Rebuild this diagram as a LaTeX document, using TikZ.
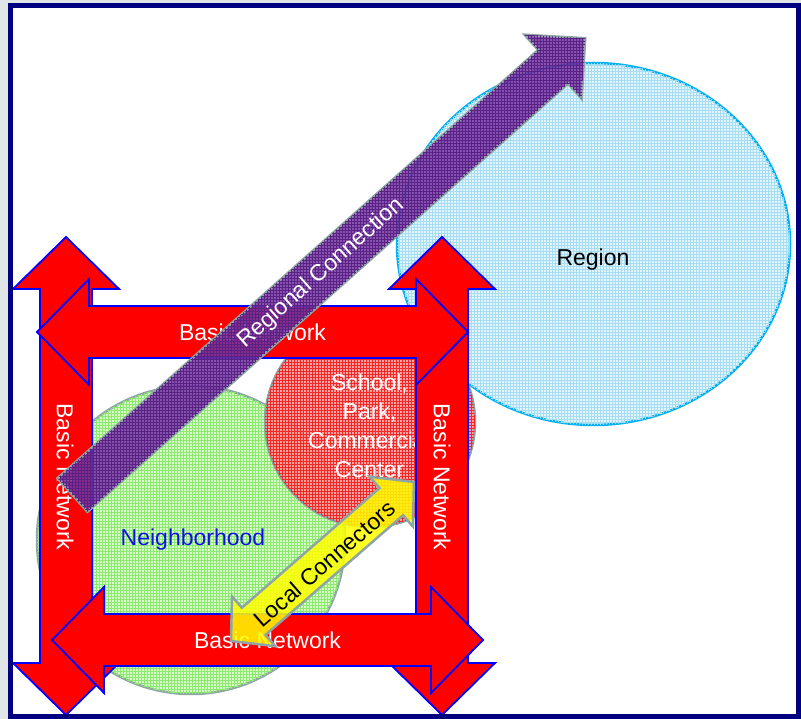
\documentclass[tikz,border=0pt]{standalone}
\usepackage{fontspec}
\setmainfont{Liberation Sans}
\usetikzlibrary{shapes.geometric,patterns}
\definecolor{NetRed}{HTML}{FF0000}
\definecolor{NetBlue}{HTML}{0000FF}
\definecolor{FrameNavy}{HTML}{000080}
\definecolor{EdgeGrey}{HTML}{8FA5A5}
\definecolor{RegionCyan}{HTML}{00B0F0}
\definecolor{RegionFill}{HTML}{E2F5FC}
\definecolor{RegionGrid}{HTML}{A6DDF3}
\definecolor{NbFill}{HTML}{D8FCCA}
\definecolor{NbGrid}{HTML}{8CEB6E}
\definecolor{NbText}{HTML}{1010E6}
\definecolor{SchoolFill}{HTML}{FF8C8C}
\definecolor{SchoolGrid}{HTML}{F02828}
\definecolor{RegPurple}{HTML}{7434A4}
\definecolor{RegGrid}{HTML}{5A2284}
\definecolor{LocYellow}{HTML}{FFFF00}
\definecolor{PageGrey}{HTML}{E0E5E8}

\begin{document}
\begin{tikzpicture}[x=1pt, y=-1pt, line join=miter,
  every node/.style={font=\fontsize{23}{29}\selectfont},
  regionarea/.style={ellipse, draw=RegionCyan, line width=2.5, fill=RegionFill, inner sep=0pt,
    postaction={pattern=grid, pattern color=RegionGrid}},
  nbarea/.style={circle, draw=EdgeGrey, line width=2.5, fill=NbFill, inner sep=0pt,
    postaction={pattern=grid, pattern color=NbGrid}},
  schoolarea/.style={circle, draw=EdgeGrey, line width=2.5, fill=SchoolFill, fill opacity=0.8, inner sep=0pt,
    postaction={pattern=grid, pattern color=SchoolGrid}},
  netarrow/.style={fill=NetRed, draw=NetBlue, line width=1.8},
  netlabel/.style={text=white},
  regarrow/.style={fill=RegPurple, fill opacity=0.85, draw=EdgeGrey, line width=2.5,
    postaction={pattern=grid, pattern color=RegGrid}},
  locarrow/.style={fill=LocYellow, fill opacity=0.85, draw=EdgeGrey, line width=2.5}]
\useasboundingbox (0,0) rectangle (801,719);
\fill[PageGrey] (0,0) rectangle (801,719);
\fill[white] (10,6) rectangle (798,716);
% areas
\node[regionarea, minimum width=393, minimum height=362] (region) at (593.5,244) {};
\node[nbarea, minimum size=308] (nbhd) at (191,540) {};
\node[schoolarea, minimum size=210] (school) at (370,422) {};
\node (regionlab) at (593,260) {Region};
\node[text=NbText] (nbhdlab) at (193,540) {Neighborhood};
\node[text=white, align=center] (schoollab) at (369.5,426) {School,\\Park,\\Commercial\\Center};
% basic network
\draw[netarrow] (66,237) -- (119,289) -- (92,289) -- (92,663) -- (119,663) -- (66,715)
  -- (13,663) -- (40,663) -- (40,289) -- (13,289) -- cycle;
\node[netlabel, rotate=-90] (netleft) at (65,477) {Basic Network};
\draw[netarrow] (442,237) -- (495,289) -- (468,289) -- (468,663) -- (495,663) -- (442,715)
  -- (389,663) -- (416,663) -- (416,289) -- (389,289) -- cycle;
\node[netlabel, rotate=-90] (netright) at (442,477) {Basic Network};
\draw[netarrow] (37,332) -- (89,279) -- (89,306) -- (416,306) -- (416,279) -- (468,332)
  -- (416,385) -- (416,358) -- (89,358) -- (89,385) -- cycle;
\node[netlabel] (nettop) at (252.5,332) {Basic Network};
\draw[netarrow] (52,640) -- (104,587) -- (104,614) -- (431,614) -- (431,587) -- (483,640)
  -- (431,693) -- (431,666) -- (104,666) -- (104,693) -- cycle;
\node[netlabel] (netbottom) at (267.5,640) {Basic Network};
% regional connection
\begin{scope}[shift={(72.5,495)}, rotate=41.7]
  \draw[regarrow] (0,-22.5) -- (643.7,-22.5) -- (643.7,-43) -- (686.7,0) -- (643.7,43)
    -- (643.7,22.5) -- (0,22.5) -- cycle;
  \node[text=white, rotate=41.7] (reglab) at (333,0) {Regional Connection};
\end{scope}
% local connectors
\begin{scope}[shift={(231,641)}, rotate=41]
  \draw[locarrow] (0,0) -- (30,-33) -- (30,-18) -- (212.4,-18) -- (212.4,-33) -- (242.4,0)
    -- (212.4,33) -- (212.4,18) -- (30,18) -- (30,33) -- cycle;
  \node[rotate=41] (loclab) at (121,3) {Local Connectors};
\end{scope}
\draw[FrameNavy, line width=5] (10,6) rectangle (798.5,716.5);
\end{tikzpicture}
\end{document}
